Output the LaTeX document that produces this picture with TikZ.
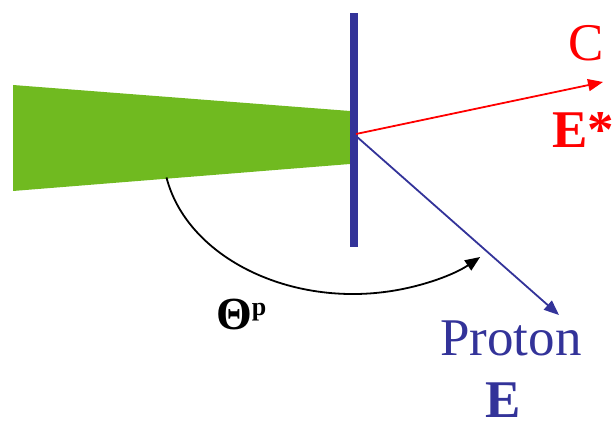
\documentclass[tikz,border=0pt]{standalone}
\usepackage{fontspec}
\setmainfont{Liberation Serif}
\usetikzlibrary{arrows.meta,calc}
\definecolor{beamgreen}{HTML}{70BA20}
\definecolor{pblue}{HTML}{333399}
\definecolor{cred}{HTML}{FF0000}
\tikzset{
  lbl/.style={inner sep=0pt, anchor=base west, font=\fontsize{53}{60}\selectfont},
  tip/.style={-{Triangle[length=15pt,width=12pt]}},
}
\begin{document}
\begin{tikzpicture}[x=1pt,y=1pt]
\useasboundingbox (0,0) rectangle (614,421);
% beam
\fill[beamgreen] (13,336) -- (350,310) -- (350,257) -- (13,230) -- cycle;
% target foil
\fill[pblue] (350,408) rectangle (358,174);
\coordinate (O) at (356,287);
\coordinate (Ob) at (356,285);
\coordinate (Rt) at (603,339);
\coordinate (Bt) at (559,106);
\draw[cred, line width=1.8pt, tip] (O) -- (Rt);
\draw[pblue, line width=1.8pt, tip] (Ob) -- (Bt);
% angle arc
\coordinate (A0) at ($(353,271)+(191:190 and 144)$);
\draw[black, line width=1.8pt, tip] (A0) arc[start angle=191, end angle=312, x radius=190, y radius=144];
% labels
\node[lbl, text=cred, anchor=center] (C) at (586,378) {C};
\node[lbl, text=cred] (Es) at (552,273) {\bfseries E*};
\node[lbl, text=pblue] (P) at (440,66) {Proton};
\node[lbl, text=pblue] (E) at (485,3) {\bfseries E};
\node[lbl, font=\fontsize{46}{52}\selectfont] (T) at (216,91) {\bfseries Θ\raisebox{14pt}{\fontsize{26}{30}\selectfont p}};
\end{tikzpicture}
\end{document}
